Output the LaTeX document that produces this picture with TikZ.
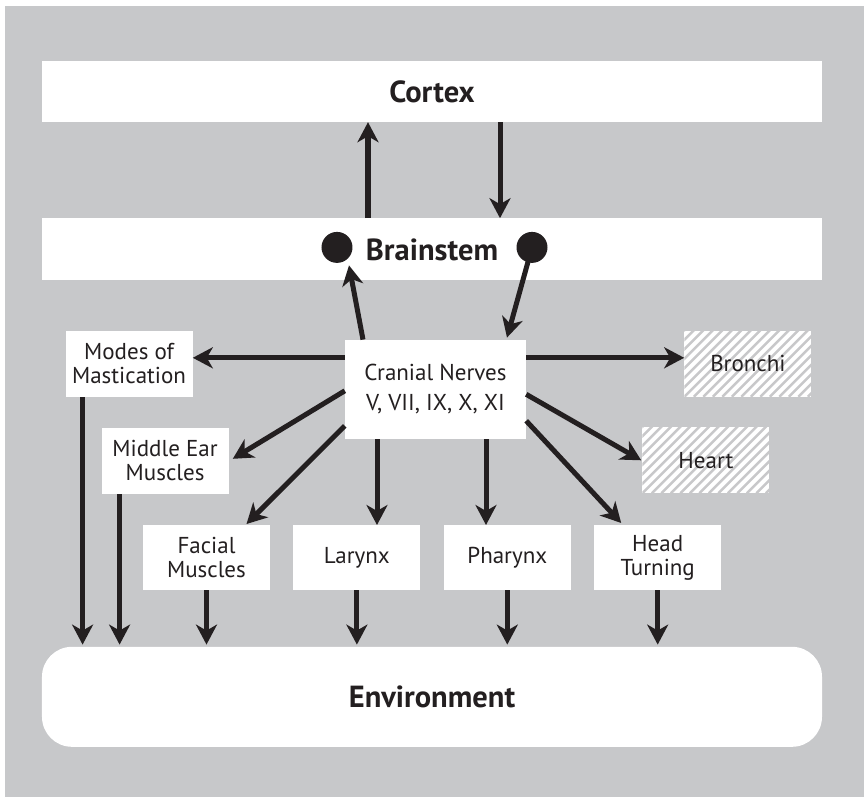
\documentclass[tikz,border=0pt]{standalone}
\usepackage{fontspec}
\setmainfont{PT Sans}
\usetikzlibrary{positioning,arrows.meta}
\definecolor{panel}{RGB}{199,200,202}
\definecolor{ink}{RGB}{35,31,32}
\definecolor{hatch}{RGB}{200,200,202}
\tikzstyle{bar} = [rectangle, fill=white, minimum width=780pt, minimum height=61pt, inner sep=0pt, text=ink, font=\fontsize{30.5}{34}\selectfont\bfseries]
\tikzstyle{organ} = [rectangle, fill=white, minimum width=127pt, minimum height=66pt, inner sep=0pt, align=center, text=ink, font=\fontsize{23}{24}\selectfont]
\tikzstyle{target} = [organ, path picture={\foreach \k in {-8,...,14} \draw[hatch, line width=2.5pt] ([xshift=\k*9.5pt]path picture bounding box.south west) -- ++(80,80);}]
\tikzstyle{dot} = [circle, fill=ink, minimum size=31pt, inner sep=0pt]
\tikzstyle{arrow} = [draw=ink, line width=5pt, -{Stealth[length=20pt,width=21pt,inset=6pt]}]

\begin{document}
\begin{tikzpicture}[x=1pt,y=1pt]
\useasboundingbox (-432,91.5) rectangle (432,-705.5);
\fill[panel] (-427,85.5) rectangle (432,-705.5);

\node (cortex) [bar] {Cortex};
\node (brainstem) [bar, minimum height=62pt, below=96pt of cortex] {Brainstem};
\node (ldot) [dot] at ([xshift=-95pt,yshift=2pt]brainstem.center) {};
\node (rdot) [dot] at ([xshift=100pt,yshift=2pt]brainstem.center) {};
\node (cranial) [organ, minimum width=181pt, minimum height=99pt, font=\fontsize{23}{30}\selectfont, below=59pt of brainstem, xshift=3.5pt] {Cranial Nerves\\V, VII, IX, X, XI};
\node (modes) [organ, left=152pt of cranial, yshift=25.5pt] {Modes of\\Mastication};
\node (bronchi) [target, right=158pt of cranial, yshift=25.5pt] {Bronchi};
\node (midear) [organ, left=116pt of cranial, yshift=-71.5pt] {Middle Ear\\Muscles};
\node (heart) [target, right=116pt of cranial, yshift=-71pt] {Heart};
\node (facial) [organ, minimum height=65pt, below=86pt of cranial, xshift=-229pt] {Facial\\Muscles};
\node (larynx) [organ, minimum height=65pt, right=23pt of facial] {Larynx};
\node (pharynx) [organ, minimum height=65pt, right=23pt of larynx] {Pharynx};
\node (head) [organ, minimum height=65pt, right=23pt of pharynx] {Head\\Turning};
\node (env) [bar, minimum height=100pt, rounded corners=30pt, below=366pt of brainstem] {Environment};

% cortex <-> brainstem
\draw[arrow] ([xshift=-64pt]brainstem.north) -- ([xshift=-64pt]cortex.south);
\draw[arrow] ([xshift=68pt]cortex.south) -- ([xshift=68pt]brainstem.north);
% brainstem <-> cranial nerves
\draw[arrow] ([xshift=-72.5pt]cranial.north) -- ([xshift=12pt,yshift=-18pt]ldot.center);
\draw[arrow] (rdot.center) -- ([xshift=71.5pt,yshift=2pt]cranial.north);
% cranial nerves to targets
\draw[arrow] ([yshift=31.5pt]cranial.west) -- ([yshift=6pt]modes.east);
\draw[arrow] ([yshift=31.5pt]cranial.east) -- ([yshift=6pt]bronchi.west);
\draw[arrow] ([yshift=-1.5pt]cranial.west) -- ([xshift=4pt,yshift=2pt]midear.east);
\draw[arrow] ([yshift=-36.5pt]cranial.west) -- ([xshift=40pt,yshift=1pt]facial.north);
\draw[arrow] ([xshift=-58.5pt]cranial.south) -- ([xshift=-58.5pt]cranial.south |- larynx.north);
\draw[arrow] ([xshift=50.5pt]cranial.south) -- ([xshift=50.5pt]cranial.south |- pharynx.north);
\draw[arrow] ([yshift=-5pt]cranial.east) -- ([xshift=-1pt]heart.west);
\draw[arrow] ([yshift=-31.5pt]cranial.east) -- ([xshift=-36.5pt,yshift=2pt]head.north);
% targets to environment
\draw[arrow] ([xshift=-46.5pt]modes.south) -- ([xshift=-46.5pt,yshift=2pt]modes.south |- env.north);
\draw[arrow] ([xshift=-45.5pt]midear.south) -- ([xshift=-45.5pt,yshift=2pt]midear.south |- env.north);
\foreach \n in {facial,larynx,pharynx,head}
  \draw[arrow] (\n.south) -- ([yshift=2pt]\n.south |- env.north);
\end{tikzpicture}
\end{document}
